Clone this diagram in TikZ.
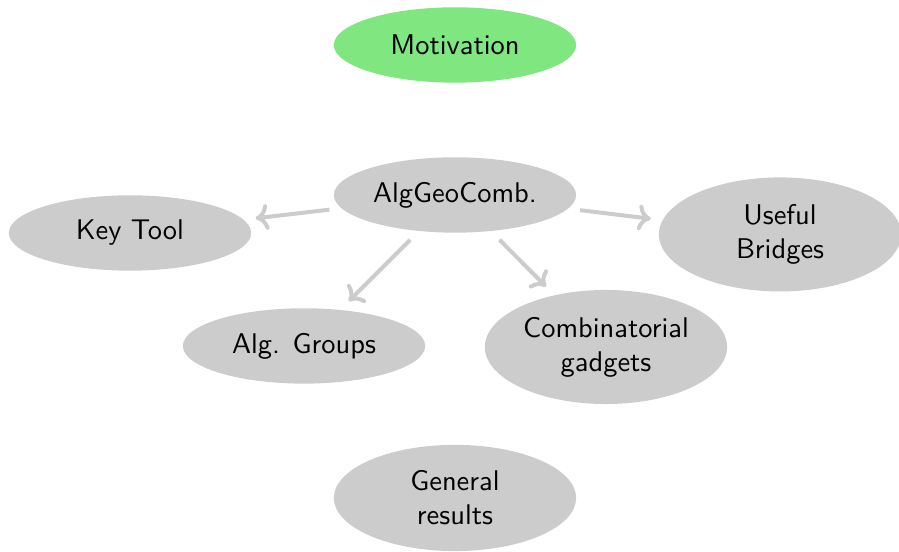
\documentclass[tikz,border=0pt]{standalone}
\usetikzlibrary{positioning,shapes.geometric,arrows.meta}
\definecolor{topicgray}{RGB}{204,204,204}
\definecolor{topicgreen}{RGB}{128,230,128}

\begin{document}
\begin{tikzpicture}[->,>={To[width=9pt,length=4.5pt]},shorten >=3.5pt,shorten <=3.5pt,on grid,line width=1.4pt,
    topic/.style={ellipse,fill=topicgray,draw=none,minimum width=2.99cm,minimum height=0.93cm,
                  inner xsep=0.5pt,inner ysep=3.6pt,align=center,font=\sffamily\normalsize},
    link/.style={draw=topicgray}]

            \useasboundingbox (-5.615,-4.405) rectangle (5.479,2.406);

            \node[topic] (agc) {AlgGeoComb.};
            \node[topic, fill=topicgreen] (motiv) [above=1.851cm of agc] {Motivation};
            \node[topic] (key) [below left=0.469cm and 4.011cm of agc] {Key Tool};
            \node[topic] (bridge) [below right=0.487cm and 4.011cm of agc] {Useful\\Bridges};
            \node[topic] (groups) [below left=1.863cm and 1.863cm of agc] {Alg. Groups};
            \node[topic] (gadget) [below right=1.876cm and 1.863cm of agc] {Combinatorial\\gadgets};
            \node[topic] (general) [below=3.739cm of agc] {General\\results};

                \draw[link] (agc) to (key);
                \draw[link] (agc) to (bridge);
                \draw[link] (agc) to (groups);
                \draw[link] (agc) to (gadget);
            ;
        \end{tikzpicture}
\end{document}
